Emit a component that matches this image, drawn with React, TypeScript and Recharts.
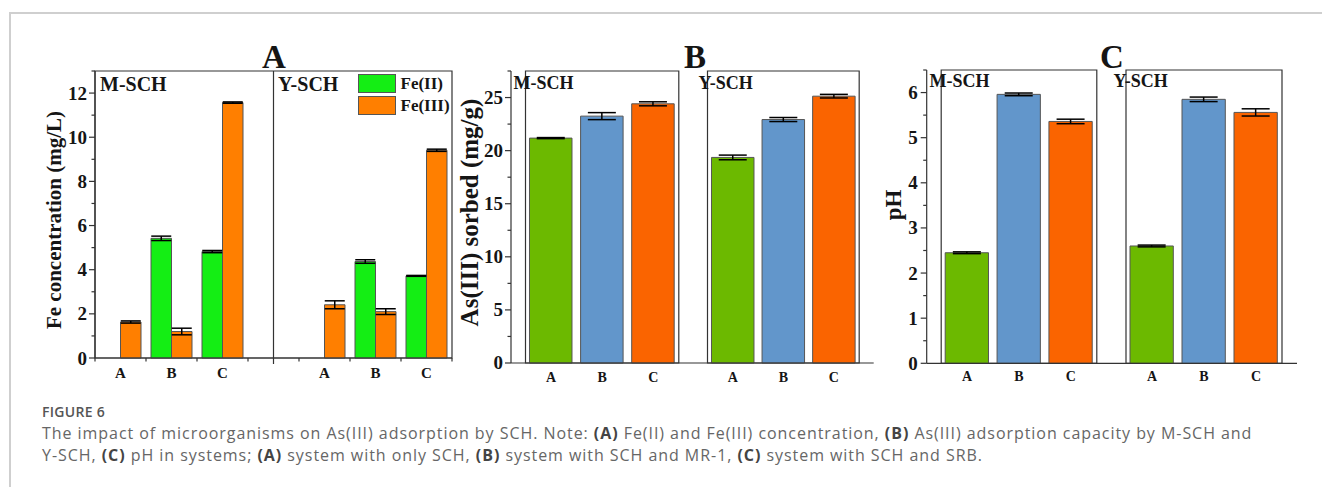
import React from 'react';
import { BarChart, Bar, XAxis, YAxis, ErrorBar, Cell, ReferenceLine, ReferenceArea, Legend } from 'recharts';

const SERIF = '"Liberation Serif", "Times New Roman", serif';
const SANS = '"Open Sans", "Noto Sans", sans-serif';
const AXIS = '#333';

// ---------- Panel A: Fe(II) / Fe(III) concentration (mg/L) ----------
const categoriesA = ['A', 'B', 'C'];
const mFe2 = [null, 5.42, 4.82];
const mFe2Err = [null, 0.1, 0.05];
const mFe3 = [1.63, 1.2, 11.57];
const mFe3Err = [0.05, 0.15, 0.03];
const yFe2 = [null, 4.37, 3.72];
const yFe2Err = [null, 0.08, 0.02];
const yFe3 = [2.41, 2.1, 9.41];
const yFe3Err = [0.18, 0.13, 0.05];
const ticksA = [0, 1, 2, 3, 4, 5, 6, 7, 8, 9, 10, 11, 12, 13];
const majorTicksA = [0, 2, 4, 6, 8, 10, 12];
const GREEN_A = '#14ee14';
const ORANGE_A = '#ff7f00';

// ---------- Panel B: As(III) sorbed (mg/g) ----------
const categoriesBC = ['A', 'B', 'C'];
const mSorbed = [21.18, 23.25, 24.41];
const mSorbedErr = [0.05, 0.33, 0.19];
const ySorbed = [19.36, 22.93, 25.13];
const ySorbedErr = [0.22, 0.19, 0.17];
const ticksB = [0, 2.5, 5, 7.5, 10, 12.5, 15, 17.5, 20, 22.5, 25, 27.5];
const majorTicksB = [0, 5, 10, 15, 20, 25];

// ---------- Panel C: pH ----------
const mPH = [2.45, 5.96, 5.36];
const mPHErr = [0.02, 0.03, 0.05];
const yPH = [2.6, 5.85, 5.56];
const yPHErr = [0.02, 0.05, 0.08];
const ticksC = [0, 0.5, 1, 1.5, 2, 2.5, 3, 3.5, 4, 4.5, 5, 5.5, 6, 6.5];
const majorTicksC = [0, 1, 2, 3, 4, 5, 6];

const COLORS_BC = ['#6cb900', '#6296cb', '#fa6400'];

const dataA = [
  ...categoriesA.map((c, i) => ({ key: 'M' + c, label: c, fe2: mFe2[i], fe2Err: mFe2Err[i], fe3: mFe3[i], fe3Err: mFe3Err[i] })),
  { key: 'gap', label: '', fe2: null, fe2Err: null, fe3: null, fe3Err: null },
  ...categoriesA.map((c, i) => ({ key: 'Y' + c, label: c, fe2: yFe2[i], fe2Err: yFe2Err[i], fe3: yFe3[i], fe3Err: yFe3Err[i] })),
];

const mkHalf = (vals: number[], errs: number[]) =>
  categoriesBC.map((c, i) => ({ label: c, value: vals[i], err: errs[i] }));

const makeYTick = (majors: number[], fontSize: number, gap: number) => (props: any) => {
  const { x, y, payload } = props;
  const isMajor = majors.includes(payload.value);
  return (
    <g>
      <line x1={x} x2={x - (isMajor ? 6 : 3.5)} y1={y} y2={y} stroke={AXIS} strokeWidth={1.2} />
      {isMajor && (
        <text x={x - gap} y={y} textAnchor="end" dominantBaseline="central" fontFamily={SERIF} fontWeight="bold" fontSize={fontSize} fill="#151515">
          {payload.value}
        </text>
      )}
    </g>
  );
};

const makeXTick = (labels: string[], fontSize: number, dy: number, count: number, fallbackHalf: number, gapIndex: number, boundaries: boolean) => (props: any) => {
  const { x, y, payload, index } = props;
  const half = payload && typeof payload.offset === 'number' && payload.offset > 0 ? payload.offset : fallbackHalf;
  return (
    <g>
      {boundaries && <line x1={x - half} x2={x - half} y1={y} y2={y + 3.5} stroke={AXIS} strokeWidth={1.2} />}
      {boundaries && index === count - 1 && <line x1={x + half} x2={x + half} y1={y} y2={y + 3.5} stroke={AXIS} strokeWidth={1.2} />}
      {index === gapIndex && <line x1={x} x2={x} y1={y} y2={y + 6} stroke={AXIS} strokeWidth={1.2} />}
      <text x={x} y={y + dy} textAnchor="middle" fontFamily={SERIF} fontWeight="bold" fontSize={fontSize} fill="#151515">
        {labels[index]}
      </text>
    </g>
  );
};

const FeLegend = (props: any) => {
  const items = (props.payload || []).map((p: any) => ({ name: p.value, color: p.color }));
  return (
    <div>
      {items.map((it: any) => (
        <div key={it.name} style={{ display: 'flex', alignItems: 'center', height: 21.7 }}>
          <div style={{ width: 36, height: 17, background: it.color, border: '1px solid #555' }} />
          <span style={{ marginLeft: 5, fontFamily: SERIF, fontWeight: 'bold', fontSize: 17, color: '#151515', lineHeight: '17px' }}>{it.name}</span>
        </div>
      ))}
    </div>
  );
};

function PanelA() {
  const labels = dataA.map((d) => d.label);
  return (
    <div style={{ position: 'absolute', left: 20, top: 60 }}>
      <BarChart width={440} height={322} data={dataA} margin={{ top: 11, right: 8, bottom: 0, left: 30 }} barGap={0}>
        <XAxis
          dataKey="key"
          height={24}
          interval={0}
          tickSize={0}
          tickMargin={0}
          tickLine={false}
          axisLine={{ stroke: AXIS, strokeWidth: 1.2 }}
          tick={makeXTick(labels, 15, 20, dataA.length, 25.5, 3, true)}
        />
        <YAxis
          width={45}
          domain={[0, 13]}
          ticks={ticksA}
          interval={0}
          tickSize={0}
          tickMargin={0}
          tickLine={false}
          axisLine={{ stroke: AXIS, strokeWidth: 1.2 }}
          tick={makeYTick(majorTicksA, 19, 8)}
        />
        <ReferenceArea y1={0} y2={13} fill="none" stroke={AXIS} strokeWidth={1.2} ifOverflow="visible" />
        <ReferenceLine x="gap" stroke={AXIS} strokeWidth={1.2} />
        <Legend
          layout="vertical"
          align="center"
          verticalAlign="middle"
          wrapperStyle={{ left: 337.5, top: 13, width: 110, right: 'auto', bottom: 'auto' }}
          content={FeLegend}
        />
        <Bar dataKey="fe2" name="Fe(II)" fill={GREEN_A} stroke="#555" strokeWidth={1} barSize={20.5} isAnimationActive={false}>
          <ErrorBar dataKey="fe2Err" width={10} stroke="#000" strokeWidth={1.5} direction="y" />
        </Bar>
        <Bar dataKey="fe3" name="Fe(III)" fill={ORANGE_A} stroke="#555" strokeWidth={1} barSize={20.5} isAnimationActive={false}>
          <ErrorBar dataKey="fe3Err" width={10} stroke="#000" strokeWidth={1.5} direction="y" />
        </Bar>
      </BarChart>
    </div>
  );
}

type HalfProps = {
  left: number; top: number; width: number; height: number;
  margin: { top: number; right: number; bottom: number; left: number };
  data: { label: string; value: number; err: number }[];
  domain: [number, number]; ticks: number[]; majors: number[];
  showY: boolean; pad: number; barSize: number; errHalf: number; tickGap: number; xFont: number; xDy: number;
};

function HalfPanel(p: HalfProps) {
  const labels = p.data.map((d) => d.label);
  return (
    <div style={{ position: 'absolute', left: p.left, top: p.top }}>
      <BarChart width={p.width} height={p.height} data={p.data} margin={p.margin}>
        <XAxis
          dataKey="label"
          height={24}
          interval={0}
          padding={{ left: p.pad, right: p.pad }}
          tickSize={0}
          tickMargin={0}
          tickLine={false}
          axisLine={{ stroke: AXIS, strokeWidth: 1.2 }}
          tick={makeXTick(labels, p.xFont, p.xDy, -1, 25.5, -1, false)}
        />
        <YAxis
          hide={!p.showY}
          width={45}
          domain={p.domain}
          ticks={p.ticks}
          interval={0}
          tickSize={0}
          tickMargin={0}
          tickLine={false}
          axisLine={{ stroke: AXIS, strokeWidth: 1.2 }}
          tick={makeYTick(p.majors, 19, p.tickGap)}
        />
        <ReferenceArea y1={p.domain[0]} y2={p.domain[1]} fill="none" stroke={AXIS} strokeWidth={1.2} ifOverflow="visible" />
        <Bar dataKey="value" barSize={p.barSize} stroke="#555" strokeWidth={1} isAnimationActive={false}>
          {p.data.map((d, i) => (
            <Cell key={d.label} fill={COLORS_BC[i]} />
          ))}
          <ErrorBar dataKey="err" width={p.errHalf} stroke="#000" strokeWidth={1.5} direction="y" />
        </Bar>
      </BarChart>
    </div>
  );
}

const T = (props: any) => <text fontFamily={SERIF} fontWeight="bold" fill="#151515" {...props} />;

const RotT = ({ cx, cy, size, children }: any) => (
  <text x={cx} y={cy} transform={`rotate(-90 ${cx} ${cy})`} textAnchor="middle" dominantBaseline="central" fontFamily={SERIF} fontWeight="bold" fontSize={size} fill="#151515">
    {children}
  </text>
);

const capLine: React.CSSProperties = {
  position: 'absolute', left: 42, fontFamily: SANS, fontSize: 16, lineHeight: '16px',
  letterSpacing: 0.95, color: '#666', whiteSpace: 'nowrap',
};
const B = ({ children }: any) => <b style={{ color: '#444', fontWeight: 700 }}>{children}</b>;

export default function App() {
  return (
    <div style={{ position: 'absolute', left: 0, top: 0, width: 1322, height: 487, background: '#fff', overflow: 'hidden' }}>
      <div style={{ position: 'absolute', left: 9, top: 12, width: 1313, height: 1.5, background: '#cfcfcf' }} />
      <div style={{ position: 'absolute', left: 9, top: 12, width: 1.5, height: 475, background: '#cfcfcf' }} />

      <PanelA />

      <HalfPanel
        left={460} top={55} width={233.3} height={332}
        margin={{ top: 16, right: 0, bottom: 0, left: 6 }}
        data={mkHalf(mSorbed, mSorbedErr)} domain={[0, 27.5]} ticks={ticksB} majors={majorTicksB}
        showY pad={14.5} barSize={42.5} errHalf={14} tickGap={8} xFont={14} xDy={19}
      />
      <HalfPanel
        left={693.3} top={55} width={188.7} height={332}
        margin={{ top: 16, right: 8, bottom: 0, left: 0 }}
        data={mkHalf(ySorbed, ySorbedErr)} domain={[0, 27.5]} ticks={ticksB} majors={majorTicksB}
        showY={false} pad={14.5} barSize={42.5} errHalf={14} tickGap={8} xFont={14} xDy={19}
      />

      <HalfPanel
        left={875} top={55} width={236.3} height={332.3}
        margin={{ top: 15, right: 0, bottom: 0, left: 6.7 }}
        data={mkHalf(mPH, mPHErr)} domain={[0, 6.5]} ticks={ticksC} majors={majorTicksC}
        showY pad={14.5} barSize={43.3} errHalf={14} tickGap={9} xFont={14} xDy={18}
      />
      <HalfPanel
        left={1111.3} top={55} width={194} height={332.3}
        margin={{ top: 15, right: 8, bottom: 0, left: 0 }}
        data={mkHalf(yPH, yPHErr)} domain={[0, 6.5]} ticks={ticksC} majors={majorTicksC}
        showY={false} pad={15} barSize={43.3} errHalf={14} tickGap={9} xFont={14} xDy={18}
      />

      <svg width={1322} height={487} style={{ position: 'absolute', left: 0, top: 0, pointerEvents: 'none' }}>
        <T x={274} y={68} fontSize={33} textAnchor="middle">A</T>
        <T x={695} y={68} fontSize={33} textAnchor="middle">B</T>
        <T x={1112} y={67.5} fontSize={33} textAnchor="middle">C</T>

        <RotT cx={53.5} cy={220} size={21}>Fe concentration (mg/L)</RotT>
        <RotT cx={469} cy={212.5} size={25}>As(III) sorbed (mg/g)</RotT>
        <RotT cx={893} cy={205} size={23}>pH</RotT>

        <T x={100} y={90.7} fontSize={20}>M-SCH</T>
        <T x={278} y={90.7} fontSize={20}>Y-SCH</T>
        <T x={513.5} y={88.5} fontSize={18}>M-SCH</T>
        <T x={698.5} y={88.5} fontSize={18}>Y-SCH</T>
        <T x={929.5} y={86.7} fontSize={18}>M-SCH</T>
        <T x={1113.5} y={86.7} fontSize={18}>Y-SCH</T>
      </svg>

      <div style={{ position: 'absolute', left: 42, top: 404.6, fontFamily: SANS, fontSize: 14, lineHeight: '14px', fontWeight: 600, letterSpacing: 0.3, color: '#555', whiteSpace: 'nowrap' }}>
        FIGURE 6
      </div>
      <div style={{ ...capLine, top: 424.8 }}>
        The impact of microorganisms on As(III) adsorption by SCH. Note: <B>(A)</B> Fe(II) and Fe(III) concentration, <B>(B)</B> As(III) adsorption capacity by M-SCH and
      </div>
      <div style={{ ...capLine, top: 446.8 }}>
        Y-SCH, <B>(C)</B> pH in systems; <B>(A)</B> system with only SCH, <B>(B)</B> system with SCH and MR-1, <B>(C)</B> system with SCH and SRB.
      </div>
    </div>
  );
}
